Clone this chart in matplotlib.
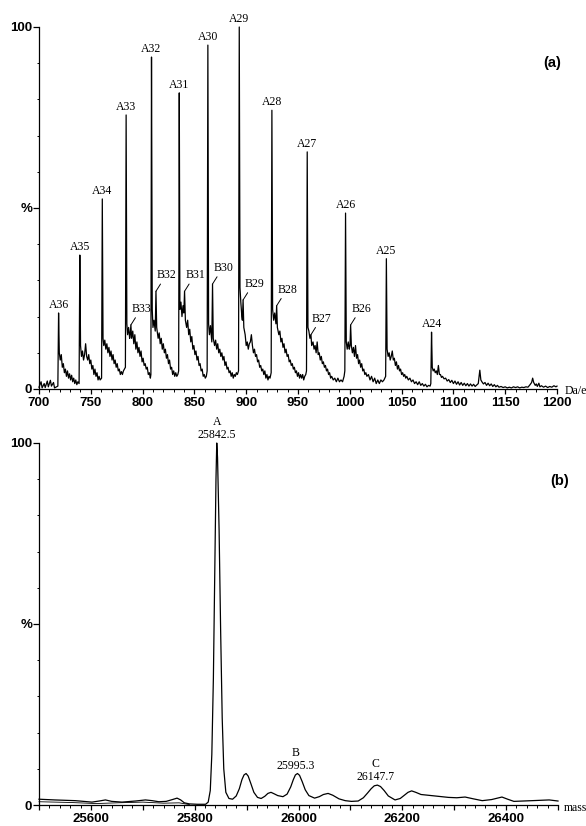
import numpy as np
import matplotlib.pyplot as plt
from matplotlib.ticker import MultipleLocator, FuncFormatter

plt.switch_backend('Agg')

SERIF = 'Liberation Serif'
SANS = 'Liberation Sans'

# ---- (a) espectro ESI, m/z 700-1200 ----
# traçado de fundo (caudas de adutos + ruído), lido ponto a ponto na figura
bg_mz = [
    700, 702, 703, 705, 706, 708, 709, 711, 712, 714, 715, 717, 718.2,
    719.6, 720.5, 721.5, 722.5, 723.5, 724.5, 725.5, 726.5, 727.5, 728.5,
    729.5, 730.5, 731.5, 732.5, 733.5, 734.5, 735.5, 736.5, 737.5, 738.7,
    740.1, 741, 742, 743, 744, 745, 746, 747, 748, 749, 750, 751, 752, 753,
    754, 755, 756, 757, 758, 759, 760.4,
    761.8, 762.5, 763.5, 764.5, 765.5, 766.5, 767.5, 768.5, 769.5, 770.5,
    771.5, 772.5, 773.5, 774.5, 775.5, 776.5, 777.5, 778.5, 779.5, 780.5,
    781.5, 782.5, 783.4,
    784.8, 785.5, 786.5, 787.5, 788.0, 789.4, 790.5, 791.5, 792.5, 793.5,
    794.5, 795.5, 796.5, 797.5, 798.5, 799.5, 800.5, 801.5, 802.5, 803.5,
    804.5, 805.5, 806.5, 807.5, 808.0,
    809.3, 810, 811, 812.2, 813.6, 815, 816, 817, 818, 819, 820, 821, 822,
    823, 824, 825, 826, 827, 828, 829, 830, 831, 832, 833, 834, 834.8,
    836, 837, 838, 839, 839.8, 841.3, 842.5, 843.5, 844.5, 845.5, 846.5,
    847.5, 848.5, 849.5, 850.5, 851.5, 852.5, 853.5, 854.5, 855.5, 856.5,
    857.5, 858.5, 859.5, 860.5, 861.5, 862.3,
    863.7, 864.5, 865.5, 866.8, 868.2, 869.5, 870.5, 871.5, 872.5, 873.5,
    874.5, 875.5, 876.5, 877.5, 878.5, 879.5, 880.5, 881.5, 882.5, 883.5,
    884.5, 885.5, 886.5, 887.5, 888.5, 889.5, 890.5, 891.5, 892.6,
    894, 894.8, 895.8, 896.3, 897.7, 899, 900, 901, 902, 903, 904, 905, 906,
    907, 908, 909, 910, 911, 912, 913, 914, 915, 916, 917, 918, 919, 920,
    921, 922, 923, 924.1,
    925.5, 926.5, 927.5, 928.7, 930.1, 931.5, 932.5, 933.5, 934.5, 935.5,
    936.5, 937.5, 938.5, 939.5, 940.5, 941.5, 942.5, 943.5, 944.5, 945.5,
    946.5, 947.5, 948.5, 949.5, 950.5, 951.5, 952.5, 953.5, 954.5, 955.5,
    956.5, 957.5, 958.2,
    959.6, 960.5, 961.5, 962.0, 963.2, 964.5, 965.5, 966.5, 967.5, 968.5,
    969.5, 970.5, 971.5, 972.5, 973.5, 974.5, 975.5, 976.5, 977.5, 978.5,
    979.5, 980.5, 981.5, 982.5, 984, 985.5, 987, 988.5, 990, 991.5, 993,
    994.5, 995.2,
    996.6, 997.5, 998.5, 999.5, 1000.2, 1001.5, 1002.5, 1003.5, 1004.5,
    1005.5, 1006.5, 1007.5, 1008.5, 1009.5, 1010.5, 1011.5, 1012.5, 1013.5,
    1014.5, 1015.5, 1016.5, 1018, 1019.5, 1021, 1022.5, 1024, 1025.5, 1027,
    1028.5, 1030, 1031.5, 1033, 1034.6,
    1036, 1037, 1038, 1039, 1040, 1041, 1042, 1043, 1044, 1045, 1046, 1047,
    1048, 1049, 1050, 1051, 1052, 1053, 1054, 1055, 1056.5, 1058, 1059.5,
    1061, 1062.5, 1064, 1065.5, 1067, 1068.5, 1070, 1071.5, 1073, 1074.5,
    1076, 1077.5, 1078.2,
    1079.6, 1080.5, 1081.5, 1082.5, 1083.5, 1084.5, 1085.5, 1086.5, 1087.5,
    1088.5, 1089.5, 1091, 1092.5, 1094, 1095.5, 1097, 1098.5, 1100, 1101.5,
    1103, 1104.5, 1106, 1107.5, 1109, 1110.5, 1112, 1113.5, 1115, 1116.5,
    1118, 1119.5, 1121, 1122.5, 1124, 1125.5, 1126.5, 1127.5, 1129, 1130.5,
    1132, 1133.5, 1135, 1136.5, 1138, 1139.5, 1141, 1142.5, 1144, 1146,
    1148, 1150, 1152, 1154, 1156, 1158, 1160, 1162, 1164, 1166, 1168, 1170,
    1172, 1174, 1175.5, 1176.5, 1177.5, 1179, 1180, 1181, 1182.5, 1183.5,
    1185, 1187, 1189, 1191, 1193, 1195, 1197, 1199, 1200,
]
bg_pct = [
    0.5, 2.0, 0.3, 1.5, 0.4, 2.2, 0.6, 2.4, 0.8, 1.8, 0.3, 0.6, 0.8,
    10, 8, 9.5, 6, 7, 4.5, 5.5, 3.5, 5, 3,
    4.2, 2.5, 3.8, 2, 3, 1.5, 2.5, 1.2, 2, 1.5,
    12, 9, 10.5, 8, 9.5, 12.5, 9, 8, 9.5, 7, 8, 5.5, 6.5, 4,
    5.5, 3.5, 4.5, 2.5, 3.5, 2.5, 3,
    14, 12, 13.5, 11, 12.5, 10, 11.5, 9, 10.5, 8,
    9.5, 7, 8, 6, 7, 5, 5.5, 4, 4.8, 4,
    5, 5.5, 6,
    18, 15, 17, 14, 15, 14, 16, 12.5, 15, 11,
    13, 10, 11.5, 9, 10.5, 7.5, 8.5, 6.5, 7, 5.5,
    6, 4, 4.5, 3, 4,
    22, 17, 19, 16, 17, 14, 15.5, 12.5, 14, 11, 12.5, 10, 11,
    8.5, 9.5, 7, 8, 5.5, 6, 4, 5, 3.5, 4.5, 3.5, 4, 5,
    22, 24, 20, 23, 21, 19, 17, 19, 15, 16.5, 13,
    14.5, 11, 12, 9.5, 10.5, 8, 9, 6.5, 7, 5,
    5.5, 3.5, 4, 3, 3.5, 5,
    18, 15, 17.5, 13, 14, 12, 13.5, 11, 12.5, 10,
    11, 9, 10, 8, 9, 6.5, 7.5, 5.5, 6, 4.5,
    5, 3.5, 4.5, 3, 4, 3.5, 4.5, 4, 5,
    28, 24, 20, 19, 17, 15, 12, 13, 11, 12.5, 13, 15, 12,
    10, 11, 9, 9.5, 7.5, 8, 6, 6.5, 5, 5.5, 4, 5, 3, 4,
    2.5, 3.5, 3, 4.5,
    22, 19, 21, 18, 17, 15, 16, 13, 14, 11.5,
    12.5, 10, 11, 9, 9.5, 7.5, 8, 6.5, 7, 5.5,
    6, 4.5, 5, 3.5, 4.5, 3, 4, 3, 4, 2.5,
    3.5, 4, 5,
    17, 16, 14, 14.5, 12, 13, 11, 12, 10, 13,
    9.5, 10, 8, 9, 7, 7.5, 6, 6.5, 5, 5.5,
    4, 4.5, 3, 3.5, 2.5, 3, 2, 3, 2, 2.5, 2,
    3.5, 5,
    13, 11, 13, 11, 12, 12, 10, 11.5, 9,
    12, 8.5, 9.5, 7, 8, 6, 7, 5, 5.5,
    4, 4.5, 3.5, 4, 2.5, 3.5, 2, 3, 1.5, 2.5,
    1.5, 2.5, 2, 2.5, 3.5,
    11, 9, 10, 8, 9, 10.5, 8, 8.5, 6.5, 7.5, 5.5, 6.5,
    5, 5.5, 4, 4.5, 3.5, 4, 3, 3.5, 2.5, 3, 2,
    2.5, 1.5, 2, 1.2, 2, 1, 1.5, 0.8, 1.3, 0.6,
    1, 0.8, 1.5,
    6, 5, 5.5, 4.5, 5, 4, 6.5, 4, 4,
    3.2, 3.5, 2.8, 3, 2.2, 2.6, 1.8, 2.4, 1.5, 2.2,
    1.3, 2, 1.1, 1.8, 1, 1.6, 0.9, 1.5, 0.8, 1.4,
    0.8, 1.3, 0.7, 1.1, 1.5, 5.2, 2.5, 2, 1.4, 1.8,
    1, 1.6, 0.9, 1.4, 0.7, 1.2, 0.6, 1, 0.5, 0.7,
    0.4, 0.6, 0.3, 0.5, 0.3, 0.6, 0.4, 0.6, 0.3, 0.5, 0.4, 0.6,
    0.5, 1.2, 1.8, 3, 1.8, 1, 1.4, 0.7, 1.6, 0.6,
    0.9, 0.5, 0.8, 0.4, 0.7, 0.5, 0.9, 0.6, 0.8,
]
assert len(bg_mz) == len(bg_pct)

# série A (estados de carga 36+ a 24+)
a_charge = [36, 35, 34, 33, 32, 31, 30, 29, 28, 27, 26, 25, 24]
a_mz = [718.9, 739.4, 761.1, 784.1, 808.6, 835.4, 863.0, 893.3, 924.8,
        958.9, 995.9, 1035.3, 1078.9]
a_pct = [21, 37, 52.5, 75.7, 91.7, 81.8, 95, 100, 77, 65.5, 48.6, 36, 15.7]

# série B (33+ a 26+)
b_charge = [33, 32, 31, 30, 29, 28, 27, 26]
b_mz = [788.7, 812.9, 840.5, 867.5, 897.0, 929.4, 962.5, 1000.8]
b_pct = [17.7, 27, 27, 29, 24.6, 23, 15, 17.7]

# ---- (b) espectro deconvoluído (massa) ----
mass_b = [25500, 25530, 25570, 25602, 25616, 25628, 25640, 25660, 25686,
          25705, 25718, 25731, 25745, 25757, 25766, 25773, 25780, 25790,
          25805, 25821, 25826, 25830, 25833, 25836, 25839, 25841, 25842.5,
          25844, 25847, 25850, 25853, 25856, 25860, 25866, 25873, 25880,
          25886, 25891, 25895, 25899, 25903, 25908, 25914, 25921, 25928,
          25935, 25941, 25947, 25953, 25960, 25970, 25978, 25985, 25990,
          25994, 25998, 26002, 26007, 26013, 26020, 26031, 26040, 26048,
          26057, 26066, 26078, 26090, 26102, 26115, 26125, 26133, 26140,
          26146, 26152, 26158, 26165, 26173, 26186, 26196, 26204, 26211,
          26218, 26226, 26236, 26256, 26289, 26305, 26321, 26337, 26354,
          26372, 26392, 26403, 26415, 26450, 26483, 26500]
pct_b = [1.6, 1.4, 1.2, 0.8, 1.1, 1.4, 1.0, 0.8, 1.1,
         1.4, 1.2, 0.9, 1.0, 1.5, 1.9, 1.4, 0.6, 0.3,
         0.2, 0.2, 0.8, 4, 14, 35, 68, 90, 100,
         96, 76, 48, 24, 10, 3.5, 1.8, 1.6, 2.5,
         4.5, 7, 8.3, 8.7, 8.0, 6, 3.5, 2.1, 1.8,
         2.4, 3.2, 3.5, 3.1, 2.6, 2.3, 3.0, 5.0, 7.0,
         8.3, 8.7, 8.2, 6.5, 4.2, 2.6, 1.9, 2.3, 2.9,
         3.2, 2.7, 1.7, 1.2, 1.0, 1.1, 2.0, 3.3, 4.5,
         5.3, 5.5, 5.1, 4.0, 2.5, 1.4, 1.8, 2.7, 3.5,
         3.9, 3.5, 2.9, 2.6, 2.1, 2.0, 2.2, 1.7, 1.2,
         1.5, 2.2, 1.6, 1.0, 1.2, 1.4, 1.1]
assert len(mass_b) == len(pct_b)

# segunda linha de base, quase no zero, à esquerda do pico A
base_mass_b = [25500, 25560, 25610, 25650, 25700, 25740, 25770, 25790]
base_pct_b = [0.9, 0.7, 0.4, 0.6, 0.8, 0.5, 0.6, 0.1]

peak_names_b = ['A', 'B', 'C']
peak_mass_b = [25842.5, 25995.3, 26147.7]


def estilo_eixos(ax):
    for lado in ('top', 'right'):
        ax.spines[lado].set_visible(False)
    for lado in ('left', 'bottom'):
        ax.spines[lado].set_linewidth(0.9)
    ax.set_ylim(0, 100)
    ax.set_yticks([0, 50, 100])
    ax.set_yticklabels(['0', '%', '100'])
    ax.yaxis.set_minor_locator(MultipleLocator(10))
    ax.tick_params(axis='y', which='major', direction='out', length=4.3,
                   width=0.9, pad=0.5, labelsize=9.5)
    ax.tick_params(axis='y', which='minor', direction='out', length=1.5,
                   width=0.7)
    ax.tick_params(axis='x', which='major', direction='out', length=3.6,
                   width=0.9, pad=2.5, labelsize=9.5)
    ax.tick_params(axis='x', which='minor', direction='out', length=2,
                   width=0.7)
    for t in ax.get_xticklabels() + ax.get_yticklabels():
        t.set_fontfamily(SANS)
        t.set_fontweight('bold')


fig = plt.figure(figsize=(5.86, 8.26), dpi=100)
ax_a = fig.add_axes([39 / 586, 1 - 389 / 826, 518 / 586, 362 / 826])
ax_b = fig.add_axes([39 / 586, 1 - 805 / 826, 519 / 586, 362 / 826])

# --- painel (a)
mz_all = np.concatenate([bg_mz, a_mz, b_mz])
pct_all = np.concatenate([bg_pct, a_pct, b_pct])
ordem = np.argsort(mz_all, kind='stable')
ax_a.plot(mz_all[ordem], pct_all[ordem], color='black', lw=0.9,
          clip_on=False)
ax_a.set_xlim(700, 1200)
ax_a.xaxis.set_major_locator(MultipleLocator(50))
ax_a.xaxis.set_minor_locator(MultipleLocator(10))
estilo_eixos(ax_a)

for z, mz, h in zip(a_charge, a_mz, a_pct):
    ax_a.annotate(f'A{z}', (mz, h), xytext=(0, 2), textcoords='offset pixels',
                  ha='center', va='bottom', fontsize=8.5, family=SERIF)

for z, mz, h in zip(b_charge, b_mz, b_pct):
    ax_a.annotate(f'B{z}', (mz, h), xytext=(11, 10),
                  textcoords='offset pixels', ha='center', va='bottom',
                  fontsize=8.5, family=SERIF,
                  arrowprops=dict(arrowstyle='-', lw=0.7, color='black',
                                  shrinkA=0, shrinkB=0, relpos=(0.3, 0.1)))

ax_a.text(0.99, 0.90, '(a)', transform=ax_a.transAxes, ha='center',
          va='center', fontsize=10.5, fontweight='bold', family=SANS)
ax_a.text(1.014, -0.006, 'Da/e', transform=ax_a.transAxes, ha='left',
          va='center', fontsize=8.5, family=SERIF, clip_on=False)

# --- painel (b)
ax_b.plot(mass_b, pct_b, color='black', lw=0.9, clip_on=False)
ax_b.plot(base_mass_b, base_pct_b, color='black', lw=0.6, clip_on=False)
ax_b.set_xlim(25500, 26500)
ax_b.xaxis.set_major_locator(MultipleLocator(100))
ax_b.xaxis.set_minor_locator(MultipleLocator(20))
ax_b.xaxis.set_major_formatter(
    FuncFormatter(lambda v, p: f'{v:.0f}' if round(v) % 200 == 0 else ''))
estilo_eixos(ax_b)

mass_arr = np.array(mass_b)
pct_arr = np.array(pct_b)
for nome, m in zip(peak_names_b, peak_mass_b):
    perto = np.abs(mass_arr - m) < 10
    topo = pct_arr[perto].max()
    ax_b.annotate(f'{nome}\n{m:.1f}', (m, topo), xytext=(0, 2),
                  textcoords='offset pixels', ha='center', va='bottom',
                  fontsize=8.5, family=SERIF, linespacing=1.1)

ax_b.text(1.004, 0.895, '(b)', transform=ax_b.transAxes, ha='center',
          va='center', fontsize=10.5, fontweight='bold', family=SANS)
ax_b.text(1.012, -0.008, 'mass', transform=ax_b.transAxes, ha='left',
          va='center', fontsize=8.5, family=SERIF, clip_on=False)

fig.savefig('out.png', dpi=100)
plt.close(fig)
